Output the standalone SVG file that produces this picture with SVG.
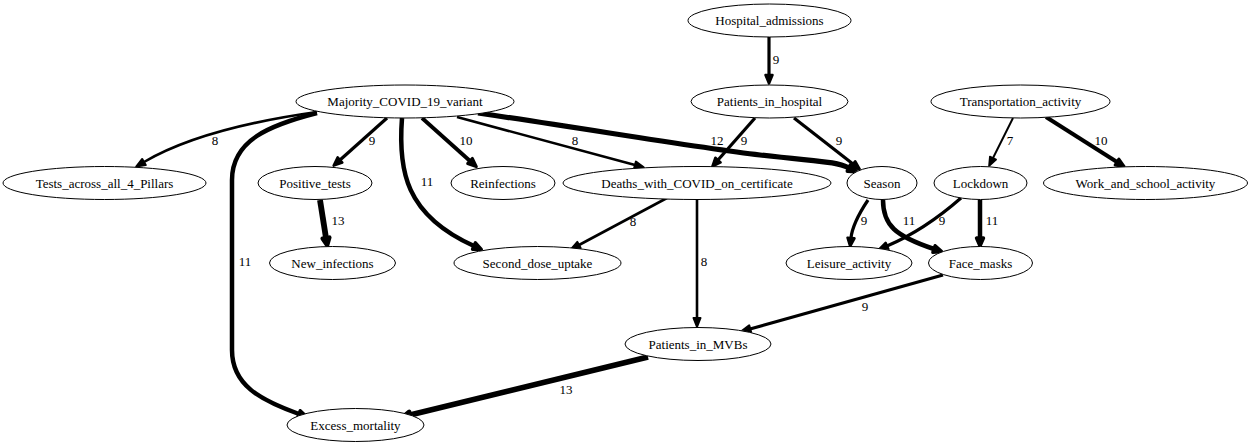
<svg xmlns="http://www.w3.org/2000/svg" width="1252" height="445" viewBox="0 0 1252 445">
<style>
.n ellipse{fill:#fff;stroke:#000;stroke-width:1}
.t{font-family:Liberation Serif,serif;font-size:13px;fill:#000;stroke:none;text-anchor:middle}
.e{fill:none;stroke:#000}
.w7{stroke-width:2;marker-end:url(#a7)}
.w8{stroke-width:2.6;marker-end:url(#a8)}
.w9{stroke-width:3.2;marker-end:url(#a9)}
.w10{stroke-width:3.9;marker-end:url(#a10)}
.w11{stroke-width:4.5;marker-end:url(#a11)}
.w12{stroke-width:5.2;marker-end:url(#a12)}
.w13{stroke-width:5.8;marker-end:url(#a13)}
marker path{fill:#000;stroke:#000;stroke-linejoin:round}
</style>
<defs>
<marker id="a7" markerUnits="userSpaceOnUse" orient="auto" refX="0" refY="0" markerWidth="30" markerHeight="30" overflow="visible"><path d="M0,-3.5L9,0L0,3.5z" stroke-width="1.6"/></marker>
<marker id="a8" markerUnits="userSpaceOnUse" orient="auto" refX="0" refY="0" markerWidth="30" markerHeight="30" overflow="visible"><path d="M0,-3.5L9,0L0,3.5z" stroke-width="2"/></marker>
<marker id="a9" markerUnits="userSpaceOnUse" orient="auto" refX="0" refY="0" markerWidth="30" markerHeight="30" overflow="visible"><path d="M0,-3.5L8.5,0L0,3.5z" stroke-width="2.5"/></marker>
<marker id="a10" markerUnits="userSpaceOnUse" orient="auto" refX="0" refY="0" markerWidth="30" markerHeight="30" overflow="visible"><path d="M0,-3.5L8.5,0L0,3.5z" stroke-width="3"/></marker>
<marker id="a11" markerUnits="userSpaceOnUse" orient="auto" refX="0" refY="0" markerWidth="30" markerHeight="30" overflow="visible"><path d="M0,-3.5L8,0L0,3.5z" stroke-width="3.4"/></marker>
<marker id="a12" markerUnits="userSpaceOnUse" orient="auto" refX="0" refY="0" markerWidth="30" markerHeight="30" overflow="visible"><path d="M0,-3.5L8,0L0,3.5z" stroke-width="3.8"/></marker>
<marker id="a13" markerUnits="userSpaceOnUse" orient="auto" refX="0" refY="0" markerWidth="30" markerHeight="30" overflow="visible"><path d="M0,-3.5L7.5,0L0,3.5z" stroke-width="4.2"/></marker>
</defs>
<rect width="1252" height="445" fill="#fff"/>
<g id="connectors">
<path class="e w9" d="M769,37L769,75"/>
<path class="e w9" d="M755,118L718,160"/>
<path class="e w9" d="M794,118L853,164"/>
<path class="e w12" d="M478,113C600,131 700,148 760,155S835,161 849,168"/>
<path class="e w8" d="M457,117L635,165"/>
<path class="e w10" d="M422,118L470,161"/>
<path class="e w11" d="M402,118C398,170 405,215 474,246"/>
<path class="e w9" d="M387,118L340,160"/>
<path class="e w8" d="M317,112C260,120 190,135 144,162"/>
<path class="e w11" d="M317,113C270,125 232,140 232,180L232,350C232,385 260,400 299,414"/>
<path class="e w13" d="M320,200L326,238"/>
<path class="e w8" d="M667,198L579,245"/>
<path class="e w8" d="M697,200L697,318"/>
<path class="e w9" d="M868,200C858,215 852,228 851,238"/>
<path class="e w11" d="M883,200C883,225 895,236 934,249"/>
<path class="e w9" d="M961,198C945,212 920,232 887,246"/>
<path class="e w11" d="M980,200L980,238"/>
<path class="e w9" d="M943,275L750,329"/>
<path class="e w13" d="M648,357L410,415"/>
<path class="e w7" d="M1013,118L993,158"/>
<path class="e w10" d="M1046,117L1117,162"/>
<text class="t" font-family="Liberation Serif" x="776" y="64">9</text>
<text class="t" font-family="Liberation Serif" x="744" y="145">9</text>
<text class="t" font-family="Liberation Serif" x="717" y="145">12</text>
<text class="t" font-family="Liberation Serif" x="839" y="145">9</text>
<text class="t" font-family="Liberation Serif" x="575" y="145">8</text>
<text class="t" font-family="Liberation Serif" x="466" y="145">10</text>
<text class="t" font-family="Liberation Serif" x="427" y="186">11</text>
<text class="t" font-family="Liberation Serif" x="372" y="145">9</text>
<text class="t" font-family="Liberation Serif" x="215" y="145">8</text>
<text class="t" font-family="Liberation Serif" x="245" y="266">11</text>
<text class="t" font-family="Liberation Serif" x="338" y="225">13</text>
<text class="t" font-family="Liberation Serif" x="633" y="226">8</text>
<text class="t" font-family="Liberation Serif" x="704" y="266">8</text>
<text class="t" font-family="Liberation Serif" x="864" y="225">9</text>
<text class="t" font-family="Liberation Serif" x="909" y="225">11</text>
<text class="t" font-family="Liberation Serif" x="942" y="225">9</text>
<text class="t" font-family="Liberation Serif" x="992" y="225">11</text>
<text class="t" font-family="Liberation Serif" x="865" y="311">9</text>
<text class="t" font-family="Liberation Serif" x="566" y="394">13</text>
<text class="t" font-family="Liberation Serif" x="1010" y="145">7</text>
<text class="t" font-family="Liberation Serif" x="1101" y="145">10</text>
</g>
<g id="Hospital_admissions" class="n"><ellipse cx="769.5" cy="20.5" rx="81.5" ry="16.5"/><text class="t" font-family="Liberation Serif" x="769.5" y="25">Hospital_admissions</text></g>
<g id="Patients_in_hospital" class="n"><ellipse cx="769.5" cy="101.5" rx="78.5" ry="16.5"/><text class="t" font-family="Liberation Serif" x="769.5" y="106">Patients_in_hospital</text></g>
<g id="Transportation_activity" class="n"><ellipse cx="1020.5" cy="101.5" rx="89.5" ry="16.5"/><text class="t" font-family="Liberation Serif" x="1020.5" y="106">Transportation_activity</text></g>
<g id="Majority_COVID_19_variant" class="n"><ellipse cx="405" cy="101.5" rx="109" ry="16.5"/><text class="t" font-family="Liberation Serif" x="405" y="106">Majority_COVID_19_variant</text></g>
<g id="Tests_across_all_4_Pillars" class="n"><ellipse cx="104.5" cy="183" rx="101.5" ry="16.5"/><text class="t" font-family="Liberation Serif" x="104.5" y="187.5">Tests_across_all_4_Pillars</text></g>
<g id="Positive_tests" class="n"><ellipse cx="315" cy="183" rx="57" ry="16.5"/><text class="t" font-family="Liberation Serif" x="315" y="187.5">Positive_tests</text></g>
<g id="Reinfections" class="n"><ellipse cx="503" cy="183" rx="52" ry="16.5"/><text class="t" font-family="Liberation Serif" x="503" y="187.5">Reinfections</text></g>
<g id="Deaths_with_COVID_on_certificate" class="n"><ellipse cx="697" cy="183" rx="134" ry="16.5"/><text class="t" font-family="Liberation Serif" x="697" y="187.5">Deaths_with_COVID_on_certificate</text></g>
<g id="Season" class="n"><ellipse cx="882" cy="183" rx="35" ry="16.5"/><text class="t" font-family="Liberation Serif" x="882" y="187.5">Season</text></g>
<g id="Lockdown" class="n"><ellipse cx="980.5" cy="183" rx="46.5" ry="16.5"/><text class="t" font-family="Liberation Serif" x="980.5" y="187.5">Lockdown</text></g>
<g id="Work_and_school_activity" class="n"><ellipse cx="1145.5" cy="183" rx="102" ry="16.5"/><text class="t" font-family="Liberation Serif" x="1145.5" y="187.5">Work_and_school_activity</text></g>
<g id="New_infections" class="n"><ellipse cx="332.5" cy="263" rx="63" ry="16.5"/><text class="t" font-family="Liberation Serif" x="332.5" y="267.5">New_infections</text></g>
<g id="Second_dose_uptake" class="n"><ellipse cx="537.5" cy="263" rx="83.5" ry="16.5"/><text class="t" font-family="Liberation Serif" x="537.5" y="267.5">Second_dose_uptake</text></g>
<g id="Leisure_activity" class="n"><ellipse cx="849" cy="263" rx="63" ry="16.5"/><text class="t" font-family="Liberation Serif" x="849" y="267.5">Leisure_activity</text></g>
<g id="Face_masks" class="n"><ellipse cx="980.5" cy="263" rx="52" ry="16.5"/><text class="t" font-family="Liberation Serif" x="980.5" y="267.5">Face_masks</text></g>
<g id="Patients_in_MVBs" class="n"><ellipse cx="698" cy="344" rx="73" ry="16.5"/><text class="t" font-family="Liberation Serif" x="698" y="348.5">Patients_in_MVBs</text></g>
<g id="Excess_mortality" class="n"><ellipse cx="355.5" cy="425" rx="68.5" ry="16.5"/><text class="t" font-family="Liberation Serif" x="355.5" y="429.5">Excess_mortality</text></g>
</svg>
